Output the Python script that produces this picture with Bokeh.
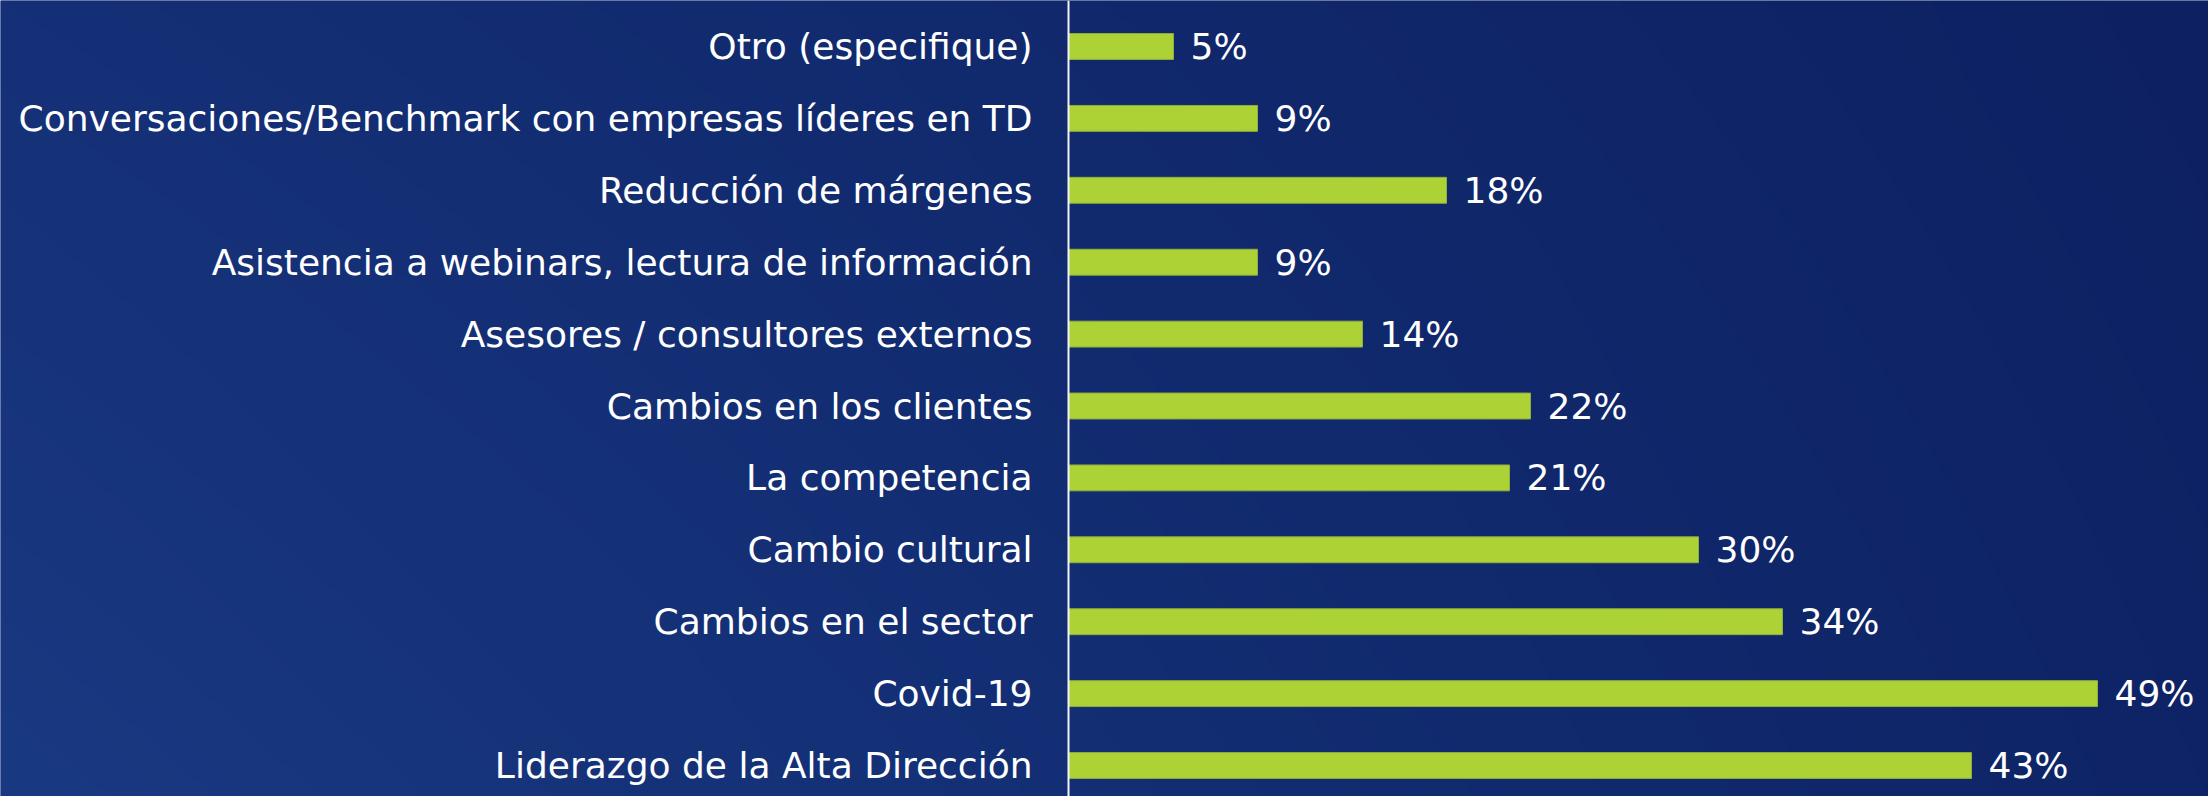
import numpy as np
from bokeh.plotting import figure
from bokeh.models import ColumnDataSource, Range1d, Span
from bokeh.core.properties import value
from bokeh.embed import file_html
from bokeh.resources import INLINE

# ---- data (bottom to top) ----
categories = [
    "Liderazgo de la Alta Dirección",
    "Covid-19",
    "Cambios en el sector",
    "Cambio cultural",
    "La competencia",
    "Cambios en los clientes",
    "Asesores / consultores externos",
    "Asistencia a webinars, lectura de información",
    "Reducción de márgenes",
    "Conversaciones/Benchmark con empresas líderes en TD",
    "Otro (especifique)",
]
values = [43, 49, 34, 30, 21, 22, 14, 9, 18, 9, 5]
value_labels = [f"{v}%" for v in values]

# ---- layout ----
W, H = 2208, 796
axis_px = 1068
px_per_unit = 21.0
x_start = -axis_px / px_per_unit
x_end = (W - axis_px) / px_per_unit
spacing = 71.9
y_start = -31 / spacing
y_end = y_start + H / spacing

source = ColumnDataSource(dict(
    y=list(range(len(categories))),
    cat=categories,
    v=values,
    lab=value_labels,
))

p = figure(width=W, height=H, x_range=Range1d(x_start, x_end),
           y_range=Range1d(y_start, y_end), x_axis_type=None, y_axis_type=None,
           toolbar_location=None, output_backend="svg", min_border=0,
           outline_line_color=None, background_fill_color="#122b70",
           border_fill_color="#122b70")
p.grid.visible = False

# gradient background
gh, gw = 199, 552
yy, xx = np.mgrid[0:gh, 0:gw]
fx = xx / (gw - 1)
fy = yy / (gh - 1)  # 0 = bottom row in image coords
TL = np.array([21, 48, 118]); BL = np.array([25, 57, 130])
TR = np.array([13, 33, 98]); BR = np.array([14, 36, 102])
top = TL[None, None, :] * (1 - fx[..., None]) + TR[None, None, :] * fx[..., None]
bot = BL[None, None, :] * (1 - fx[..., None]) + BR[None, None, :] * fx[..., None]
col = bot * (1 - fy[..., None]) + top * fy[..., None]
img = np.empty((gh, gw), dtype=np.uint32)
view = img.view(dtype=np.uint8).reshape((gh, gw, 4))
view[..., 0] = col[..., 0].astype(np.uint8)
view[..., 1] = col[..., 1].astype(np.uint8)
view[..., 2] = col[..., 2].astype(np.uint8)
view[..., 3] = 255
p.image_rgba(image=[img], x=x_start, y=y_start, dw=x_end - x_start, dh=y_end - y_start)

p.hbar(y="y", left=0, right="v", height=0.36, source=source,
       fill_color="#acd236", line_color="#8fae3c", line_width=1)

p.add_layout(Span(location=0, dimension="height", line_color="#f2f4f8", line_width=2))

p.text(x=0, y="y", text="cat", source=source, x_offset=-36,
       text_align="right", text_baseline="middle",
       text_font=value("DejaVu Sans"), text_font_size="36px", text_color="white")

p.text(x="v", y="y", text="lab", source=source, x_offset=17,
       text_align="left", text_baseline="middle",
       text_font=value("DejaVu Sans"), text_font_size="36px", text_color="white")

open("out.html", "w").write(file_html(p, INLINE))
